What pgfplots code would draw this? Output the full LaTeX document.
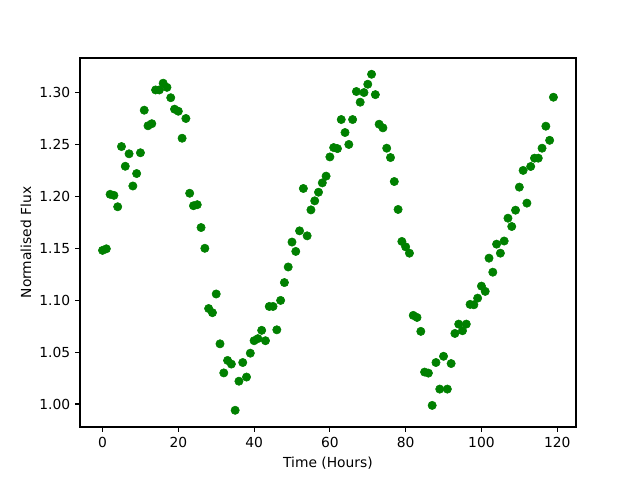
\documentclass[border=0pt]{standalone}
\usepackage{pgfplots}
\pgfplotsset{compat=1.18}
\usepackage{fontspec}
\setmainfont{DejaVu Sans}
\definecolor{mplgreen}{RGB}{0,128,0}
\begin{document}
\begin{tikzpicture}
\path[use as bounding box] (0,0) rectangle (460.8bp,345.6bp);
\begin{axis}[
  at={(57.6bp,38.16bp)}, anchor=south west,
  scale only axis, width=357.1bp, height=265.7bp,
  xmin=-5.95, xmax=124.95, ymin=0.9779, ymax=1.3333,
  xtick={0,20,...,120},
  ytick={1.00,1.05,1.10,1.15,1.20,1.25,1.30},
  yticklabel style={/pgf/number format/.cd, fixed, fixed zerofill, precision=2},
  /pgf/number format/assume math mode=true,
  tick align=outside, major tick length=3.5bp,
  xtick pos=bottom, ytick pos=left,
  tick label style={font=\fontsize{10}{12}\selectfont},
  label style={font=\fontsize{10}{12}\selectfont},
  xlabel={Time (Hours)}, ylabel={Normalised Flux},
  xlabel style={at={(axis description cs:0.5,-0.0976)}, anchor=center},
  ylabel style={at={(axis description cs:-0.109,0.5)}, anchor=center, rotate=0},
  axis line style={line width=0.8bp},
  every tick/.style={line width=0.8bp, black},
]
\addplot[only marks, mark=*, mark size=3bp, color=mplgreen, mark options={fill=mplgreen, draw=mplgreen}] coordinates {
(0,1.148) (1,1.1495) (2,1.202) (3,1.201) (4,1.190) (5,1.248) (6,1.229) (7,1.241) (8,1.210) (9,1.222)
(10,1.242) (11,1.283) (12,1.268) (13,1.270) (14,1.3025) (15,1.3025) (16,1.309) (17,1.305) (18,1.295) (19,1.284)
(20,1.282) (21,1.256) (22,1.275) (23,1.203) (24,1.191) (25,1.192) (26,1.170) (27,1.150) (28,1.092) (29,1.088)
(30,1.106) (31,1.058) (32,1.030) (33,1.042) (34,1.0385) (35,0.994) (36,1.022) (37,1.040) (38,1.026) (39,1.049)
(40,1.061) (41,1.063) (42,1.071) (43,1.061) (44,1.094) (45,1.094) (46,1.0715) (47,1.0998) (48,1.117) (49,1.132)
(50,1.156) (51,1.147) (52,1.1668) (53,1.2076) (54,1.162) (55,1.187) (56,1.1957) (57,1.204) (58,1.213) (59,1.2195)
(60,1.238) (61,1.247) (62,1.246) (63,1.274) (64,1.2615) (65,1.250) (66,1.274) (67,1.301) (68,1.2907) (69,1.300)
(70,1.308) (71,1.3176) (72,1.298) (73,1.2695) (74,1.266) (75,1.2464) (76,1.2374) (77,1.2143) (78,1.1874) (79,1.1566)
(80,1.1514) (81,1.1453) (82,1.0854) (83,1.0834) (84,1.070) (85,1.0308) (86,1.0298) (87,0.9987) (88,1.040) (89,1.0144)
(90,1.046) (91,1.0144) (92,1.039) (93,1.068) (94,1.077) (95,1.0706) (96,1.077) (97,1.096) (98,1.0956) (99,1.102)
(100,1.1136) (101,1.1085) (102,1.1405) (103,1.127) (104,1.154) (105,1.1453) (106,1.157) (107,1.179) (108,1.171) (109,1.1867)
(110,1.2089) (111,1.225) (112,1.1935) (113,1.2288) (114,1.2368) (115,1.2368) (116,1.2464) (117,1.2676) (118,1.254) (119,1.2955)
};
\end{axis}
\end{tikzpicture}
\end{document}
